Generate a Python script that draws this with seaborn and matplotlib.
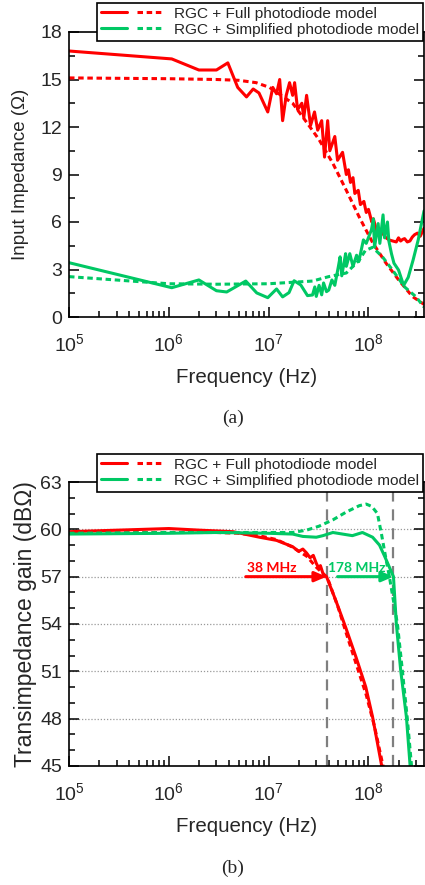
import matplotlib
matplotlib.use('Agg')
import matplotlib.pyplot as plt
import seaborn as sns
import numpy as np
from matplotlib.lines import Line2D
from matplotlib.legend_handler import HandlerTuple
from matplotlib.ticker import LogLocator, MultipleLocator, NullFormatter

# ---- (a) input impedance, ohm ----
zin_full_meas_f = [1e5, 1.07e6, 2.0e6, 3.0e6, 3.9e6, 4.9e6, 6.0e6, 7.0e6, 8.0e6, 9.8e6,
                   1.1e7, 1.2e7, 1.29e7, 1.38e7, 1.5e7, 1.62e7, 1.74e7, 1.82e7, 1.95e7, 2.15e7,
                   2.25e7, 2.4e7, 2.63e7, 2.88e7, 3.1e7, 3.4e7, 3.63e7, 3.9e7, 4.1e7, 4.6e7,
                   4.9e7, 5.5e7, 6.0e7, 6.3e7, 6.6e7, 7.0e7, 7.3e7, 7.9e7, 8.3e7, 9.0e7,
                   9.5e7, 1.0e8, 1.08e8, 1.12e8, 1.2e8, 1.38e8, 1.5e8, 1.62e8, 1.75e8, 1.9e8,
                   2.0e8, 2.1e8, 2.2e8, 2.3e8, 2.45e8, 2.6e8, 2.75e8, 2.9e8, 3.1e8, 3.3e8, 3.6e8]
zin_full_meas = [16.8, 16.3, 15.6, 15.6, 16.05, 14.5, 13.9, 14.4, 14.15, 12.95,
                 14.5, 14.1, 15.0, 12.4, 14.0, 14.8, 14.0, 14.8, 13.1, 13.5,
                 12.6, 14.0, 12.1, 12.95, 11.8, 12.4, 10.1, 12.4, 10.5, 11.4,
                 9.9, 10.4, 9.0, 9.3, 8.5, 8.8, 7.8, 8.0, 7.1, 7.3,
                 6.6, 6.8, 6.0, 6.2, 5.5, 5.3, 5.0, 4.86, 4.8, 4.74,
                 5.0, 4.8, 4.9, 4.95, 4.74, 4.8, 5.05, 5.2, 5.3, 5.1, 5.6]
zin_full_sim_f = [1e5, 1e6, 3e6, 5e6, 7.5e6, 1.02e7, 1.74e7, 2.4e7, 3.2e7, 4.4e7,
                  6.0e7, 8.1e7, 1.1e8, 1.5e8, 2.0e8, 2.75e8, 3.6e8]
zin_full_sim = [15.1, 15.05, 15.0, 14.95, 14.8, 14.5, 13.5, 12.3, 11.2, 9.7,
                8.0, 6.3, 4.7, 3.4, 2.35, 1.3, 0.8]
zin_simp_meas_f = [1e5, 1.07e6, 2.0e6, 3.0e6, 3.8e6, 5.9e6, 7.6e6, 9.8e6, 1.2e7, 1.38e7,
                   1.6e7, 1.8e7, 2.1e7, 2.45e7, 2.75e7, 2.9e7, 3.0e7, 3.2e7, 3.4e7, 3.55e7,
                   3.8e7, 4.0e7, 4.3e7, 4.6e7, 5.0e7, 5.2e7, 5.4e7, 5.9e7, 6.0e7, 6.5e7,
                   7.0e7, 7.6e7, 8.0e7, 8.9e7, 9.5e7, 1.07e8, 1.12e8, 1.15e8, 1.25e8, 1.3e8,
                   1.4e8, 1.45e8, 1.55e8, 1.6e8, 1.7e8, 1.8e8, 2.0e8, 2.25e8, 2.5e8, 2.8e8,
                   3.15e8, 3.6e8]
zin_simp_meas = [3.43, 1.85, 2.34, 1.66, 1.58, 2.27, 1.52, 1.22, 1.77, 1.27,
                 1.54, 2.29, 2.02, 1.35, 1.39, 1.9, 1.3, 2.0, 1.4, 2.15,
                 1.6, 1.7, 2.34, 2.0, 3.2, 3.8, 2.6, 4.0, 3.2, 4.0,
                 3.2, 3.9, 3.5, 4.87, 4.65, 5.5, 6.2, 4.4, 5.9, 4.65,
                 6.45, 5.0, 6.0, 4.8, 4.0, 3.4, 2.97, 2.0, 2.5, 3.6,
                 4.87, 6.7]
zin_simp_sim_f = [1e5, 1e6, 3e6, 1e7, 2.75e7, 4e7, 6e7, 8.1e7, 9.3e7, 1.1e8,
                  1.38e8, 1.74e8, 2.3e8, 3e8, 3.6e8]
zin_simp_sim = [2.55, 2.1, 2.07, 2.1, 2.27, 2.55, 2.78, 3.6, 4.2, 4.4,
                3.8, 2.97, 1.9, 1.27, 0.63]

# ---- (b) transimpedance gain, dB ohm ----
tz_full_meas_f = [1e5, 1e6, 2e6, 4.4e6, 8.1e6, 1.2e7, 1.74e7, 2.0e7, 2.2e7, 2.4e7,
                  2.6e7, 2.8e7, 3.0e7, 3.2e7, 3.3e7, 3.5e7, 3.8e7, 4.7e7, 5.9e7, 7.5e7,
                  9.4e7, 1.1e8, 1.34e8, 1.4e8]
tz_full_meas = [59.85, 60.05, 59.95, 59.85, 59.5, 59.3, 58.9, 58.6, 58.75, 58.5,
                58.2, 58.35, 57.85, 57.5, 57.7, 57.2, 57.0, 55.5, 53.8, 51.9,
                50.0, 48.1, 45.2, 44.5]
tz_full_sim_f = [1e5, 1e6, 3e6, 5e6, 8e6, 1.2e7, 1.7e7, 2.4e7, 3e7, 3.5e7,
                 4.0e7, 5e7, 6e7, 7.5e7, 9.5e7, 1.15e8, 1.4e8, 1.45e8]
tz_full_sim = [59.75, 59.8, 59.8, 59.75, 59.6, 59.35, 58.9, 58.3, 57.6, 57.2,
               56.7, 55.0, 53.4, 51.5, 49.5, 47.5, 45.0, 44.5]
tz_simp_meas_f = [1e5, 1e6, 3e6, 1e7, 1.74e7, 2.2e7, 3.0e7, 3.5e7, 4.4e7, 5.5e7,
                  6.9e7, 8.7e7, 1.1e8, 1.29e8, 1.45e8, 1.62e8, 1.78e8, 1.9e8, 2.1e8, 2.4e8,
                  2.6e8, 2.65e8]
tz_simp_meas = [59.7, 59.75, 59.8, 59.75, 59.7, 59.55, 59.5, 59.6, 59.8, 59.7,
                59.6, 59.8, 59.5, 59.0, 58.3, 57.6, 57.0, 54.05, 51.1, 48.1,
                45.2, 44.5]
tz_simp_sim_f = [1e5, 1e6, 1e7, 1.74e7, 2.4e7, 3.2e7, 4.4e7, 6.0e7, 8.1e7, 9.5e7,
                 1.08e8, 1.23e8, 1.35e8, 1.51e8, 1.62e8, 1.95e8, 2.19e8, 2.45e8, 2.7e8, 2.8e8]
tz_simp_sim = [59.75, 59.8, 59.8, 59.8, 59.95, 60.2, 60.6, 61.1, 61.5, 61.6,
               61.45, 61.0, 59.7, 58.0, 57.0, 54.0, 51.0, 48.0, 45.0, 44.3]

bw_full = 38e6
bw_simp = 178e6
bw_labels = ['38 MHz', '178 MHz']
legend_labels = ['RGC + Full photodiode model', 'RGC + Simplified photodiode model']

RED = '#ff0000'
GREEN = '#00c864'
DASH = (0, (1.8, 1.2))
LW = 2.2

sns.set_style('ticks')
plt.rcParams['font.family'] = ['Liberation Sans', 'DejaVu Sans']
plt.rcParams['mathtext.fontset'] = 'custom'
plt.rcParams['mathtext.rm'] = 'Liberation Sans'

fig = plt.figure(figsize=(4.25, 8.85), dpi=100)
ax_a = fig.add_axes([69 / 425, 1 - 317 / 885, 355 / 425, 285 / 885])
ax_b = fig.add_axes([69 / 425, 1 - 766 / 885, 355 / 425, 284 / 885])


def style_axis(ax, ymin, ymax, ystep, yminor):
    ax.set_xscale('log')
    ax.set_xlim(1e5, 3.6e8)
    ax.set_ylim(ymin, ymax)
    ax.set_yticks(np.arange(ymin, ymax + 0.1, ystep))
    ax.yaxis.set_minor_locator(MultipleLocator(yminor))
    ax.xaxis.set_major_locator(LogLocator(base=10))
    ax.xaxis.set_minor_locator(LogLocator(base=10, subs=np.arange(2, 10)))
    ax.xaxis.set_minor_formatter(NullFormatter())
    ax.tick_params(which='both', direction='in', right=True, top=False, color='black')
    ax.tick_params(which='major', length=7, width=1.1, labelsize=14)
    ax.tick_params(which='minor', length=4, width=1.1)
    ax.tick_params(axis='x', which='major', pad=12)
    ax.tick_params(axis='y', which='major', pad=5)
    for s in ax.spines.values():
        s.set_visible(True)
        s.set_linewidth(1.2)
        s.set_color('black')
    ax.set_xlabel('Frequency (Hz)', fontsize=14.8, labelpad=9)


def add_legend(ax, y_top):
    handles = [
        (Line2D([], [], color=RED, lw=LW), Line2D([], [], color=RED, lw=LW, ls=DASH)),
        (Line2D([], [], color=GREEN, lw=LW), Line2D([], [], color=GREEN, lw=LW, ls=DASH)),
    ]
    leg = ax.legend(handles, legend_labels, handler_map={tuple: HandlerTuple(ndivide=None, pad=0.65)},
                    loc='upper right', bbox_to_anchor=(423 / 425, y_top), bbox_transform=fig.transFigure,
                    fontsize=11.1, frameon=True, fancybox=False, framealpha=1, edgecolor='black',
                    handlelength=4.1, handletextpad=0.65, borderpad=0.25, labelspacing=0.12, borderaxespad=0)
    leg.get_frame().set_linewidth(1.2)
    leg.set_zorder(10)


# (a)
sns.lineplot(x=zin_full_meas_f, y=zin_full_meas, ax=ax_a, color=RED, lw=LW)
sns.lineplot(x=zin_full_sim_f, y=zin_full_sim, ax=ax_a, color=RED, lw=LW, ls=DASH)
sns.lineplot(x=zin_simp_meas_f, y=zin_simp_meas, ax=ax_a, color=GREEN, lw=LW)
sns.lineplot(x=zin_simp_sim_f, y=zin_simp_sim, ax=ax_a, color=GREEN, lw=LW, ls=DASH)
style_axis(ax_a, 0, 18, 3, 1.5)
ax_a.set_ylabel('Input Impedance (\u03a9)', fontsize=13.5, labelpad=8)
add_legend(ax_a, 1 - 3 / 885)
fig.text(233 / 425, 1 - 418 / 885, '(a)', ha='center', va='center', fontsize=14, family='Liberation Serif')

# (b)
for g in [48, 51, 54, 57, 60]:
    ax_b.axhline(g, color='#999999', lw=0.9, ls=(0, (1, 1.5)), zorder=0)
for bw in [bw_full, bw_simp]:
    ax_b.axvline(bw, color='#7f7f7f', lw=1.6, ls=(0, (5, 3.5)), zorder=1)
sns.lineplot(x=tz_full_meas_f, y=tz_full_meas, ax=ax_b, color=RED, lw=LW)
sns.lineplot(x=tz_full_sim_f, y=tz_full_sim, ax=ax_b, color=RED, lw=LW, ls=DASH)
sns.lineplot(x=tz_simp_meas_f, y=tz_simp_meas, ax=ax_b, color=GREEN, lw=LW)
sns.lineplot(x=tz_simp_sim_f, y=tz_simp_sim, ax=ax_b, color=GREEN, lw=LW, ls=DASH)
style_axis(ax_b, 45, 63, 3, 1)
ax_b.set_ylabel('Transimpedance gain (dB\u03a9)', fontsize=16.5, labelpad=2)
add_legend(ax_b, 1 - 454 / 885)

arrow_kw = dict(arrowstyle='-|>,head_length=0.7,head_width=0.3', lw=2.2, shrinkA=0, shrinkB=0)
ax_b.annotate('', xy=(bw_full, 57), xytext=(5.9e6, 57),
              arrowprops=dict(color=RED, **arrow_kw))
ax_b.annotate('', xy=(bw_simp, 57), xytext=(4.9e7, 57),
              arrowprops=dict(color=GREEN, **arrow_kw))
ax_b.text(1.07e7, 57.15, bw_labels[0], color=RED, fontsize=10, fontweight='bold',
          family='Lato', ha='center', va='bottom')
ax_b.text(7.6e7, 57.15, bw_labels[1], color=GREEN, fontsize=10, fontweight='bold',
          family='Lato', ha='center', va='bottom')
fig.text(233 / 425, 1 - 868 / 885, '(b)', ha='center', va='center', fontsize=14, family='Liberation Serif')

fig.savefig('out.png', dpi=100)
